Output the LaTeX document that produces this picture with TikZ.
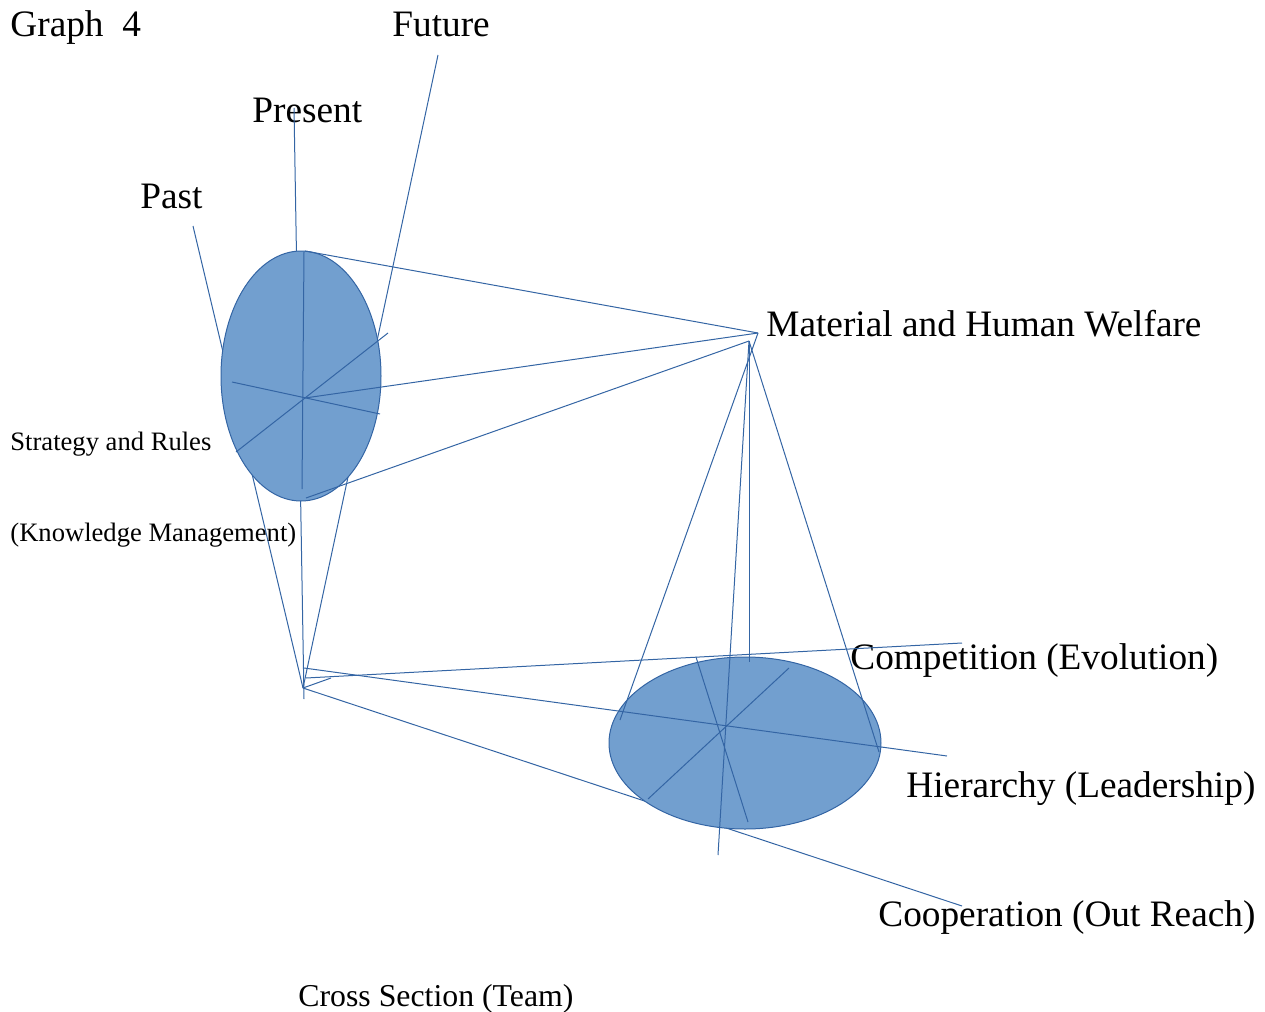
\documentclass[tikz,border=0pt]{standalone}
\usepackage{fontspec}
\setmainfont{Liberation Serif}
\usetikzlibrary{shapes.geometric}
\definecolor{lineblue}{RGB}{52,101,164}
\definecolor{fillblue}{RGB}{114,159,207}
\tikzset{
  lbl/.style={anchor=base west, inner sep=0pt, font=\fontsize{18.65}{22}\selectfont},
  lblsmall/.style={lbl, font=\fontsize{13.3}{16}\selectfont},
  lblmid/.style={lbl, font=\fontsize{15.9}{19}\selectfont},
  ln/.style={draw=lineblue, line width=0.5pt},
  blob/.style={ellipse, draw=lineblue, fill=fillblue, line width=0.5pt, inner sep=0pt},
}
\begin{document}
\begin{tikzpicture}[x=0.5pt,y=-0.5pt]
    \useasboundingbox (0,0) rectangle (1265,1012);
    \node[lbl] (n0) at (10,36.7) {Graph\ \ 4};
    \node[lbl] (n1) at (392,36.7) {Future};
    \node[lbl] (n2) at (252,122.7) {Present};
    \node[lbl] (n3) at (140,208.3) {Past};
    \node[lbl] (n4) at (766,336) {Material and Human Welfare};
    \node[lblsmall] (n5) at (10,450) {Strategy and Rules};
    \node[lblsmall] (n6) at (10,541) {(Knowledge Management)};
    \node[lbl] (n7) at (850,669) {Competition (Evolution)};
    \node[lbl] (n8) at (906,797) {Hierarchy (Leadership)};
    \node[lbl] (n9) at (878,926) {Cooperation (Out Reach)};
    \node[lblmid] (n10) at (298,1006) {Cross Section (Team)};
    \coordinate (p0) at (193,226);
    \coordinate (p1) at (294,108);
    \coordinate (p2) at (438,55);
    \coordinate (a0) at (303,688);
    \coordinate (a1) at (304,699);
    \coordinate (a2) at (331,678);
    \coordinate (a3) at (304,668);
    \coordinate (a4) at (306,678);
    \coordinate (c0) at (962,643);
    \coordinate (h0) at (947,756);
    \coordinate (o0) at (962,906);
    \coordinate (m0) at (758,333);
    \coordinate (m1) at (749,341);
    \coordinate (u0) at (304,252);
    \coordinate (u1) at (302,489);
    \coordinate (u2) at (232,382);
    \coordinate (u3) at (380,414);
    \coordinate (u4) at (236,452);
    \coordinate (u5) at (388,333);
    \coordinate (u6) at (305,398);
    \coordinate (u7) at (305,251);
    \coordinate (u8) at (306,498);
    \coordinate (l0) at (620,720);
    \coordinate (l1) at (749,662);
    \coordinate (l2) at (718,855);
    \coordinate (l3) at (879,752);
    \coordinate (l4) at (696,657);
    \coordinate (l5) at (748,822);
    \coordinate (l6) at (648,799);
    \coordinate (l7) at (789,668);
    \draw[ln] (a0) edge (p0) edge (p2) edge (o0);
    \draw[ln] (a1) -- (p1);
    \node[blob, minimum width=80pt, minimum height=125pt] (e0) at (301,376) {};
    \node[blob, minimum width=136pt, minimum height=86pt] (e1) at (745,743) {};
    \draw[ln] (a0) -- (a2);
    \draw[ln] (a3) -- (h0);
    \draw[ln] (a4) -- (c0);
    \draw[ln] (u0) -- (u1);
    \draw[ln] (u2) -- (u3);
    \draw[ln] (u4) -- (u5);
    \draw[ln] (m0) edge (u6) edge (u7) edge (l0);
    \draw[ln] (m1) edge (u8) edge (l1) edge (l2) edge (l3);
    \draw[ln] (l4) -- (l5);
    \draw[ln] (l6) -- (l7);
\end{tikzpicture}
\end{document}
